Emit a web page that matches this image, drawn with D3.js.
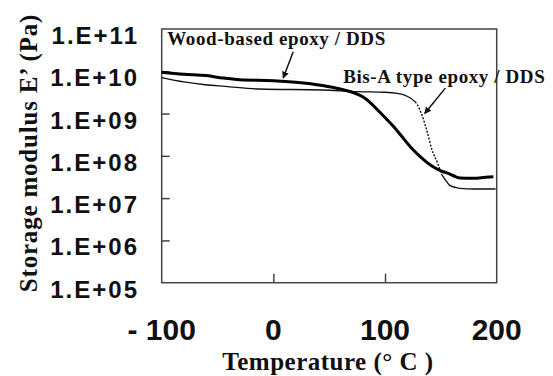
<!DOCTYPE html>
<html lang="en">
<head>
    <meta charset="UTF-8">
    <title>Storage modulus vs temperature</title>
    <script src="https://d3js.org/d3.v7.min.js"></script>
    <style>
        body { margin: 0; background: #fff; }
        .ytick { font: bold 24px "Liberation Sans", Arial, sans-serif; letter-spacing: 2px; fill: #111; }
        .xtick { font: bold 30px "Liberation Sans", Arial, sans-serif; fill: #111; }
        .title { font: bold 25px "Liberation Serif", "Times New Roman", serif; fill: #111; }
        .note { font: bold 19px "Liberation Serif", "Times New Roman", serif; fill: #111; }
        .frame { fill: none; stroke: #444; stroke-width: 1.5px; }
    </style>
</head>
<body>
    <script>
        // temperature (°C) and storage modulus E' (Pa)
        const woodT = [-100, -80, -60, -45, -30, 0, 20, 44, 60, 72, 80, 87, 95, 102, 108, 114, 123, 132, 143, 150, 156, 167, 179, 190, 197];
        const woodE = [9.5e9, 8.5e9, 7.9e9, 6.9e9, 6.3e9, 6.0e9, 5.5e9, 4.6e9, 3.8e9, 3.1e9, 2.5e9, 1.8e9, 1.1e9, 7.1e8, 4.8e8, 3.1e8, 1.6e8, 9.3e7, 5.5e7, 4.4e7, 3.9e7, 3.0e7, 2.95e7, 3.1e7, 3.2e7];

        const bisT = [-100, -80, -61, -43, -12, 44, 75, 100, 111, 118, 123, 127, 129, 133, 138, 142, 147, 151, 155, 158, 163, 167, 180, 199];
        const bisE = [7.1e9, 5.6e9, 4.8e9, 4.4e9, 3.8e9, 3.6e9, 3.3e9, 3.2e9, 3.0e9, 2.7e9, 2.3e9, 1.9e9, 1.6e9, 9.3e8, 3.5e8, 1.4e8, 6.8e7, 3.5e7, 2.5e7, 2.0e7, 1.8e7, 1.7e7, 1.65e7, 1.65e7];
        // the steep part of the Bis-A curve is dotted
        const bisDashFrom = 128, bisDashTo = 152;

        const xTicks = [-100, 0, 100, 200];
        const yTicks = [1e5, 1e6, 1e7, 1e8, 1e9, 1e10, 1e11];
        const yTickLabels = ["1.E+05", "1.E+06", "1.E+07", "1.E+08", "1.E+09", "1.E+10", "1.E+11"];

        const width = 553, height = 376;
        const margin = { top: 29, right: 56.3, bottom: 93.3, left: 161.7 };

        const x = d3.scaleLinear().domain([-100, 200]).range([margin.left, width - margin.right]);
        const y = d3.scaleLog().domain([1e5, 1e11]).range([height - margin.bottom, margin.top]);

        const svg = d3.select("body").append("svg")
            .attr("width", width)
            .attr("height", height);

        svg.append("rect").attr("width", width).attr("height", height).attr("fill", "#fff");

        svg.append("defs").append("marker")
            .attr("id", "arrow")
            .attr("viewBox", "0 0 10 10")
            .attr("refX", 9).attr("refY", 5)
            .attr("markerWidth", 7).attr("markerHeight", 7)
            .attr("markerUnits", "userSpaceOnUse")
            .attr("orient", "auto")
            .append("path")
            .attr("d", "M0,0 L10,5 L0,10 z")
            .attr("fill", "#111");

        // plot frame
        svg.append("rect")
            .attr("class", "frame")
            .attr("x", x(-100)).attr("y", y(1e11))
            .attr("width", x(200) - x(-100))
            .attr("height", y(1e5) - y(1e11));

        // inward ticks, inner ones only
        const yAxis = d3.axisRight(y).tickValues(yTicks.slice(1, -1)).tickSize(8).tickFormat("");
        svg.append("g")
            .attr("transform", `translate(${x(-100)},0)`)
            .call(yAxis)
            .call(g => g.select(".domain").remove())
            .call(g => g.selectAll("line").attr("stroke", "#444").attr("stroke-width", 1.5));

        const xAxis = d3.axisTop(x).tickValues(xTicks.slice(1, -1)).tickSize(9).tickFormat("");
        svg.append("g")
            .attr("transform", `translate(0,${y(1e5)})`)
            .call(xAxis)
            .call(g => g.select(".domain").remove())
            .call(g => g.selectAll("line").attr("stroke", "#444").attr("stroke-width", 1.5));

        // tick labels
        svg.append("g").selectAll("text")
            .data(yTicks)
            .join("text")
            .attr("class", "ytick")
            .attr("x", 139)
            .attr("y", d => y(d) + 15)
            .attr("text-anchor", "end")
            .text((d, i) => yTickLabels[i]);

        svg.append("g").selectAll("text")
            .data(xTicks)
            .join("text")
            .attr("class", "xtick")
            .attr("x", d => x(d))
            .attr("y", y(1e5) + 57)
            .attr("text-anchor", "middle")
            .text(d => d < 0 ? "- " + Math.abs(d) : d);

        // axis titles
        svg.append("text")
            .attr("class", "title")
            .attr("x", 328).attr("y", 370)
            .attr("text-anchor", "middle")
            .attr("letter-spacing", 0.5)
            .text("Temperature (°  C )");

        svg.append("text")
            .attr("class", "title")
            .attr("transform", "translate(37,153) rotate(-90)")
            .attr("text-anchor", "middle")
            .attr("letter-spacing", 0.8)
            .text("Storage modulus E’ (Pa)");

        // curves
        const line = d3.line()
            .x(d => x(d[0]))
            .y(d => y(d[1]))
            .curve(d3.curveMonotoneX);

        const wood = d3.zip(woodT, woodE);
        const bis = d3.zip(bisT, bisE);

        svg.append("path")
            .attr("d", line(bis.filter(d => d[0] <= bisDashFrom)))
            .attr("fill", "none").attr("stroke", "#111").attr("stroke-width", 1.4);
        svg.append("path")
            .attr("d", line(bis.filter(d => d[0] >= bisDashFrom - 1 && d[0] <= bisDashTo)))
            .attr("fill", "none").attr("stroke", "#111").attr("stroke-width", 1.4)
            .attr("stroke-dasharray", "2,1.5");
        svg.append("path")
            .attr("d", line(bis.filter(d => d[0] >= bisDashTo - 1)))
            .attr("fill", "none").attr("stroke", "#111").attr("stroke-width", 1.4);

        svg.append("path")
            .attr("d", line(wood))
            .attr("fill", "none").attr("stroke", "#000").attr("stroke-width", 3);

        // annotations: label anchor and arrow in data coordinates
        const notes = [
            { text: "Wood-based epoxy / DDS", at: [-95, 4.2e10], from: [17.8, 2.9e10], to: [8.8, 6.9e9] },
            { text: "Bis-A type epoxy / DDS", at: [62.5, 5.3e9], from: [154, 4.0e9], to: [135.5, 1.0e9] }
        ];

        notes.forEach(n => {
            svg.append("text")
                .attr("class", "note")
                .attr("x", x(n.at[0])).attr("y", y(n.at[1]))
                .attr("letter-spacing", 0.6)
                .text(n.text);
            svg.append("line")
                .attr("x1", x(n.from[0])).attr("y1", y(n.from[1]))
                .attr("x2", x(n.to[0])).attr("y2", y(n.to[1]))
                .attr("stroke", "#111").attr("stroke-width", 1.5)
                .attr("marker-end", "url(#arrow)");
        });
    </script>
</body>
</html>
